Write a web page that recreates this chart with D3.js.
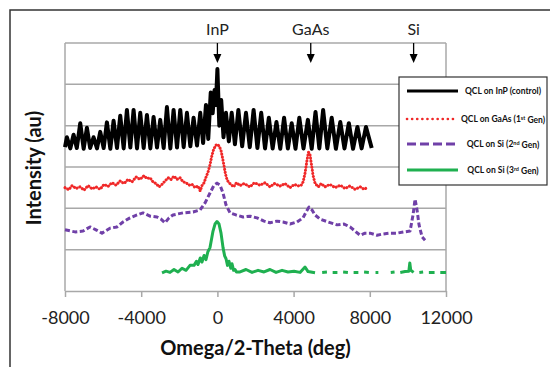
<!DOCTYPE html>
<html>
<head>
<meta charset="utf-8">
<script src="https://cdn.jsdelivr.net/npm/d3@7"></script>
<style>
  body { margin: 0; background: #fff; }
  svg { display: block; font-family: Lato, "Open Sans", sans-serif; }
</style>
</head>
<body>
<svg id="chart" width="550" height="367"></svg>
<script>
// axis ticks and reference markers
const xTicks = [-8000, -4000, 0, 4000, 8000, 12000];
const gridLevels = [1, 2, 3, 4, 5, 6];
const markerNames = ['InP', 'GaAs', 'Si'];
const markerPos = [0, 4900, 10300];

// QCL on InP (control): fringe maxima and minima
const inpPeaks = [
  [-7900, 3.72], [-7550, 3.78], [-7200, 4.06], [-6850, 3.95], [-6500, 3.72], [-6150, 3.85],
  [-5800, 4.08], [-5450, 4.12], [-5100, 4.24], [-4750, 4.38], [-4400, 4.38], [-4050, 4.31],
  [-3700, 4.26], [-3350, 4.21], [-3000, 4.14], [-2650, 4.45], [-2300, 4.38], [-1950, 4.38],
  [-1600, 4.31], [-1250, 4.19], [-900, 4.31], [-600, 4.50], [-350, 4.80], [-150, 4.86],
  [0, 5.37], [200, 4.62], [450, 4.31], [750, 4.31], [1100, 4.38], [1500, 4.31],
  [1900, 4.38], [2300, 4.31], [2700, 4.19], [3100, 4.09], [3500, 4.19], [3900, 4.06],
  [4300, 4.19], [4750, 4.14], [5150, 4.33], [5550, 4.38], [6000, 4.19], [6450, 4.09],
  [6900, 4.06], [7350, 3.97], [7800, 3.97]
];
const inpTroughs = [
  [-8000, 3.48], [-7720, 3.45], [-7380, 3.46], [-7020, 3.44], [-6680, 3.46], [-6320, 3.45],
  [-5970, 3.46], [-5620, 3.44], [-5270, 3.46], [-4920, 3.45], [-4570, 3.47], [-4220, 3.45],
  [-3870, 3.46], [-3520, 3.45], [-3170, 3.47], [-2820, 3.46], [-2470, 3.45], [-2120, 3.47],
  [-1770, 3.48], [-1420, 3.50], [-1070, 3.52], [-750, 3.58], [-480, 3.68], [-250, 4.30],
  [-80, 4.50], [100, 4.00], [320, 3.72], [600, 3.62], [920, 3.55], [1300, 3.50],
  [1700, 3.48], [2100, 3.46], [2500, 3.45], [2900, 3.45], [3300, 3.44], [3700, 3.45],
  [4100, 3.44], [4520, 3.45], [4950, 3.44], [5350, 3.45], [5770, 3.45], [6220, 3.44],
  [6670, 3.45], [7120, 3.44], [7570, 3.45], [8100, 3.46]
];

// QCL on GaAs (1st Gen)
const gaasGen1 = [
  [-8000, 2.50], [-7800, 2.45], [-7630, 2.55], [-7420, 2.48], [-7210, 2.52], [-7000, 2.44],
  [-6790, 2.55], [-6580, 2.47], [-6370, 2.52], [-6160, 2.46], [-5950, 2.58], [-5740, 2.53],
  [-5530, 2.62], [-5320, 2.56], [-5110, 2.66], [-4900, 2.60], [-4690, 2.70], [-4480, 2.64],
  [-4270, 2.76], [-4060, 2.70], [-3850, 2.79], [-3700, 2.72], [-3540, 2.74], [-3380, 2.64],
  [-3220, 2.60], [-3060, 2.52], [-2910, 2.58], [-2750, 2.66], [-2590, 2.74], [-2430, 2.70],
  [-2280, 2.78], [-2120, 2.70], [-1960, 2.74], [-1800, 2.64], [-1650, 2.62], [-1490, 2.56],
  [-1330, 2.58], [-1170, 2.50], [-1020, 2.54], [-900, 2.42], [-810, 2.55], [-700, 2.62],
  [-600, 2.75], [-490, 2.88], [-390, 3.05], [-300, 3.25], [-200, 3.42], [-100, 3.52],
  [0, 3.55], [100, 3.50], [190, 3.40], [270, 3.22], [350, 3.02], [430, 2.82],
  [500, 2.70], [600, 2.62], [715, 2.58], [850, 2.52], [1000, 2.62], [1190, 2.55],
  [1400, 2.60], [1710, 2.52], [1950, 2.62], [2240, 2.56], [2500, 2.62], [2760, 2.52],
  [3000, 2.60], [3290, 2.54], [3550, 2.60], [3810, 2.50], [4050, 2.58], [4230, 2.54],
  [4400, 2.56], [4500, 2.64], [4600, 2.85], [4700, 3.15], [4780, 3.36], [4860, 3.30],
  [4940, 3.05], [5020, 2.80], [5130, 2.60], [5300, 2.52], [5450, 2.60], [5650, 2.52],
  [5900, 2.58], [6180, 2.50], [6450, 2.56], [6700, 2.48], [6950, 2.54], [7230, 2.46],
  [7500, 2.52], [7700, 2.46], [7860, 2.50]
];

// QCL on Si (2nd Gen)
const siGen2 = [
  [-8000, 1.48], [-7475, 1.43], [-7055, 1.45], [-6688, 1.55], [-6373, 1.48], [-6058, 1.40],
  [-5638, 1.52], [-5270, 1.55], [-4955, 1.67], [-4588, 1.77], [-4220, 1.84], [-3905, 1.89],
  [-3538, 1.81], [-3170, 1.79], [-2960, 1.74], [-2750, 1.65], [-2540, 1.77], [-2330, 1.84],
  [-1805, 1.89], [-1280, 1.91], [-913, 1.96], [-650, 2.13], [-388, 2.37], [-178, 2.56],
  [-20, 2.61], [138, 2.56], [295, 2.37], [453, 2.08], [663, 1.89], [978, 1.84],
  [1345, 1.79], [1713, 1.81], [2080, 1.77], [2448, 1.69], [2763, 1.65], [3130, 1.69],
  [3445, 1.67], [3813, 1.62], [4180, 1.67], [4495, 1.77], [4653, 1.91], [4810, 2.03],
  [4968, 1.96], [5125, 1.84], [5388, 1.74], [5808, 1.67], [6280, 1.60], [6648, 1.62],
  [6963, 1.55], [7225, 1.45], [7488, 1.35], [7750, 1.40], [8013, 1.40], [8380, 1.35],
  [8695, 1.38], [9063, 1.40], [9430, 1.40], [9798, 1.43], [10113, 1.45], [10270, 1.84],
  [10375, 2.22], [10480, 1.96], [10585, 1.60], [10743, 1.31], [10900, 1.23]
];

// QCL on Si (3rd Gen), null = no data
const siGen3 = [
  [-2908, 0.44], [-2698, 0.48], [-2488, 0.45], [-2278, 0.52], [-2068, 0.46], [-1858, 0.55],
  [-1648, 0.50], [-1438, 0.62], [-1228, 0.62], [-1100, 0.72], [-1018, 0.64], [-900, 0.80],
  [-808, 0.70], [-700, 0.86], [-600, 0.76], [-500, 0.95], [-388, 1.05], [-230, 1.45],
  [-125, 1.62], [-20, 1.68], [85, 1.62], [190, 1.40], [295, 1.05], [380, 0.85],
  [453, 0.78], [530, 0.62], [610, 0.72], [700, 0.55], [768, 0.66], [850, 0.50],
  [925, 0.52], [1000, 0.46], [1188, 0.46], [1503, 0.52], [1818, 0.45], [2133, 0.50],
  [2448, 0.46], [2763, 0.52], [3078, 0.45], [3393, 0.50], [3708, 0.46], [4023, 0.48],
  [4338, 0.45], [4600, 0.58], [4758, 0.47], [5125, 0.44], [5300, null], [5500, 0.45],
  [5750, 0.46], [5850, null], [6050, 0.45], [6300, 0.45], [6400, null], [6600, 0.46],
  [6850, 0.45], [6950, null], [7150, 0.45], [7400, 0.45], [7500, null], [7700, 0.46],
  [7950, 0.45], [8050, null], [8300, 0.45], [8450, 0.45], [8550, null], [9100, 0.45],
  [9300, 0.46], [9400, null], [9600, 0.45], [9850, 0.47], [10050, 0.48], [10100, 0.68],
  [10150, 0.50], [10300, 0.45], [10400, null], [10600, 0.45], [10800, 0.46], [10900, null],
  [11100, 0.45], [11400, 0.45], [11500, null], [11700, 0.45], [12000, 0.45]
];

const legendPre = ['QCL on InP (control)', 'QCL on GaAs (1', 'QCL on Si (2', 'QCL on Si (3'];
const legendSup = ['', 'st', 'nd', 'rd'];
const legendPost = ['', ' Gen)', ' Gen)', ' Gen)'];

const inpControl = inpPeaks.concat(inpTroughs).sort((a, b) => a[0] - b[0]);

const series = [
  { data: inpControl, color: '#000000', width: 4, dash: null, cap: 'butt', legendDash: null, legendWidth: 3 },
  { data: gaasGen1, color: '#f02828', width: 3, dash: '0.1,3', cap: 'round', legendDash: '0.1,5', legendWidth: 2.6 },
  { data: siGen2, color: '#7040a8', width: 3, dash: '5,2.5', cap: 'butt', legendDash: '9,4', legendWidth: 3.2 },
  { data: siGen3, color: '#1fb050', width: 3, dash: null, cap: 'butt', legendDash: null, legendWidth: 3 }
];

const svg = d3.select('#chart');
const x = d3.scaleLinear().domain([-8000, 12000]).range([65, 446]);
const y = d3.scaleLinear().domain([0, 6]).range([291, 43]);
const gridColor = '#a8a8a8';

// outer frame
svg.append('rect')
  .attr('x', 10).attr('y', 10)
  .attr('width', 600).attr('height', 400)
  .attr('fill', 'none')
  .attr('stroke', '#333')
  .attr('stroke-width', 1.5);

// horizontal grid lines
svg.append('g')
  .selectAll('line')
  .data(gridLevels)
  .join('line')
  .attr('x1', x(-8000)).attr('x2', x(12000))
  .attr('y1', (d) => y(d)).attr('y2', (d) => y(d))
  .attr('stroke', gridColor)
  .attr('stroke-width', 1.5);

// plot sides
svg.append('g')
  .selectAll('line')
  .data([-8000, 12000])
  .join('line')
  .attr('x1', (d) => x(d)).attr('x2', (d) => x(d))
  .attr('y1', y(6)).attr('y2', y(0))
  .attr('stroke', gridColor)
  .attr('stroke-width', 1.5);

// x axis
const xAxis = svg.append('g')
  .attr('transform', `translate(0,${y(0)})`)
  .call(d3.axisBottom(x).tickValues(xTicks).tickSize(6).tickSizeOuter(0).tickPadding(14).tickFormat((d) => String(d)));
xAxis.select('.domain').attr('stroke', gridColor).attr('stroke-width', 1.5);
xAxis.selectAll('.tick line').attr('stroke', gridColor).attr('stroke-width', 1.5);
xAxis.selectAll('.tick text')
  .attr('fill', '#222')
  .style('font-size', '18px')
  .style('font-family', 'Lato, "Open Sans", sans-serif');

// series
const line = d3.line()
  .defined((d) => d[1] !== null)
  .x((d) => x(d[0]))
  .y((d) => y(d[1]));

svg.append('g')
  .selectAll('path')
  .data(series)
  .join('path')
  .attr('d', (s) => line(s.data))
  .attr('fill', 'none')
  .attr('stroke', (s) => s.color)
  .attr('stroke-width', (s) => s.width)
  .attr('stroke-dasharray', (s) => s.dash)
  .attr('stroke-linecap', (s) => s.cap)
  .attr('stroke-linejoin', 'round');

// substrate markers
const markers = svg.append('g')
  .selectAll('g')
  .data(markerNames)
  .join('g')
  .attr('transform', (d, i) => `translate(${x(markerPos[i])},0)`);
markers.append('line')
  .attr('y1', y(6)).attr('y2', y(6) + 12)
  .attr('stroke', '#000')
  .attr('stroke-width', 1.3);
markers.append('path')
  .attr('d', `M-4,${y(6) + 11}L4,${y(6) + 11}L0,${y(6) + 20}Z`)
  .attr('fill', '#000');
markers.append('text')
  .attr('y', 35)
  .attr('text-anchor', 'middle')
  .attr('fill', '#222')
  .style('font-size', '16px')
  .text((d) => d);

// axis titles
svg.append('text')
  .attr('x', (x(-8000) + x(12000)) / 2)
  .attr('y', 355)
  .attr('text-anchor', 'middle')
  .attr('fill', '#111')
  .style('font-size', '20px')
  .style('font-weight', 'bold')
  .text('Omega/2-Theta (deg)');

svg.append('text')
  .attr('transform', 'translate(34,168) rotate(-90)')
  .attr('dy', '0.35em')
  .attr('text-anchor', 'middle')
  .attr('fill', '#111')
  .style('font-size', '20px')
  .style('font-weight', 'bold')
  .text('Intensity (au)');

// legend
const legend = svg.append('g');
legend.append('rect')
  .attr('x', 399).attr('y', 77)
  .attr('width', 148).attr('height', 108)
  .attr('fill', '#fff')
  .attr('stroke', '#333')
  .attr('stroke-width', 1.2);

const legendRows = [91, 119, 144, 170];
const entries = legend.selectAll('g.entry')
  .data(series)
  .join('g')
  .attr('class', 'entry')
  .attr('transform', (d, i) => `translate(0,${legendRows[i]})`);
entries.append('line')
  .attr('x1', 407).attr('x2', 458)
  .attr('stroke', (s) => s.color)
  .attr('stroke-width', (s) => s.legendWidth)
  .attr('stroke-dasharray', (s) => s.legendDash)
  .attr('stroke-linecap', (s) => s.cap);
const labels = entries.append('text')
  .attr('x', 503)
  .attr('dy', '0.35em')
  .attr('text-anchor', 'middle')
  .attr('fill', '#111')
  .style('font-size', '8.5px')
  .style('font-weight', 'bold');
labels.append('tspan').text((d, i) => legendPre[i]);
labels.append('tspan')
  .attr('dy', '-0.35em')
  .style('font-size', '5.5px')
  .text((d, i) => legendSup[i]);
labels.append('tspan')
  .attr('dy', (d, i) => (legendSup[i] ? '0.35em' : null))
  .text((d, i) => legendPost[i]);
</script>
</body>
</html>
